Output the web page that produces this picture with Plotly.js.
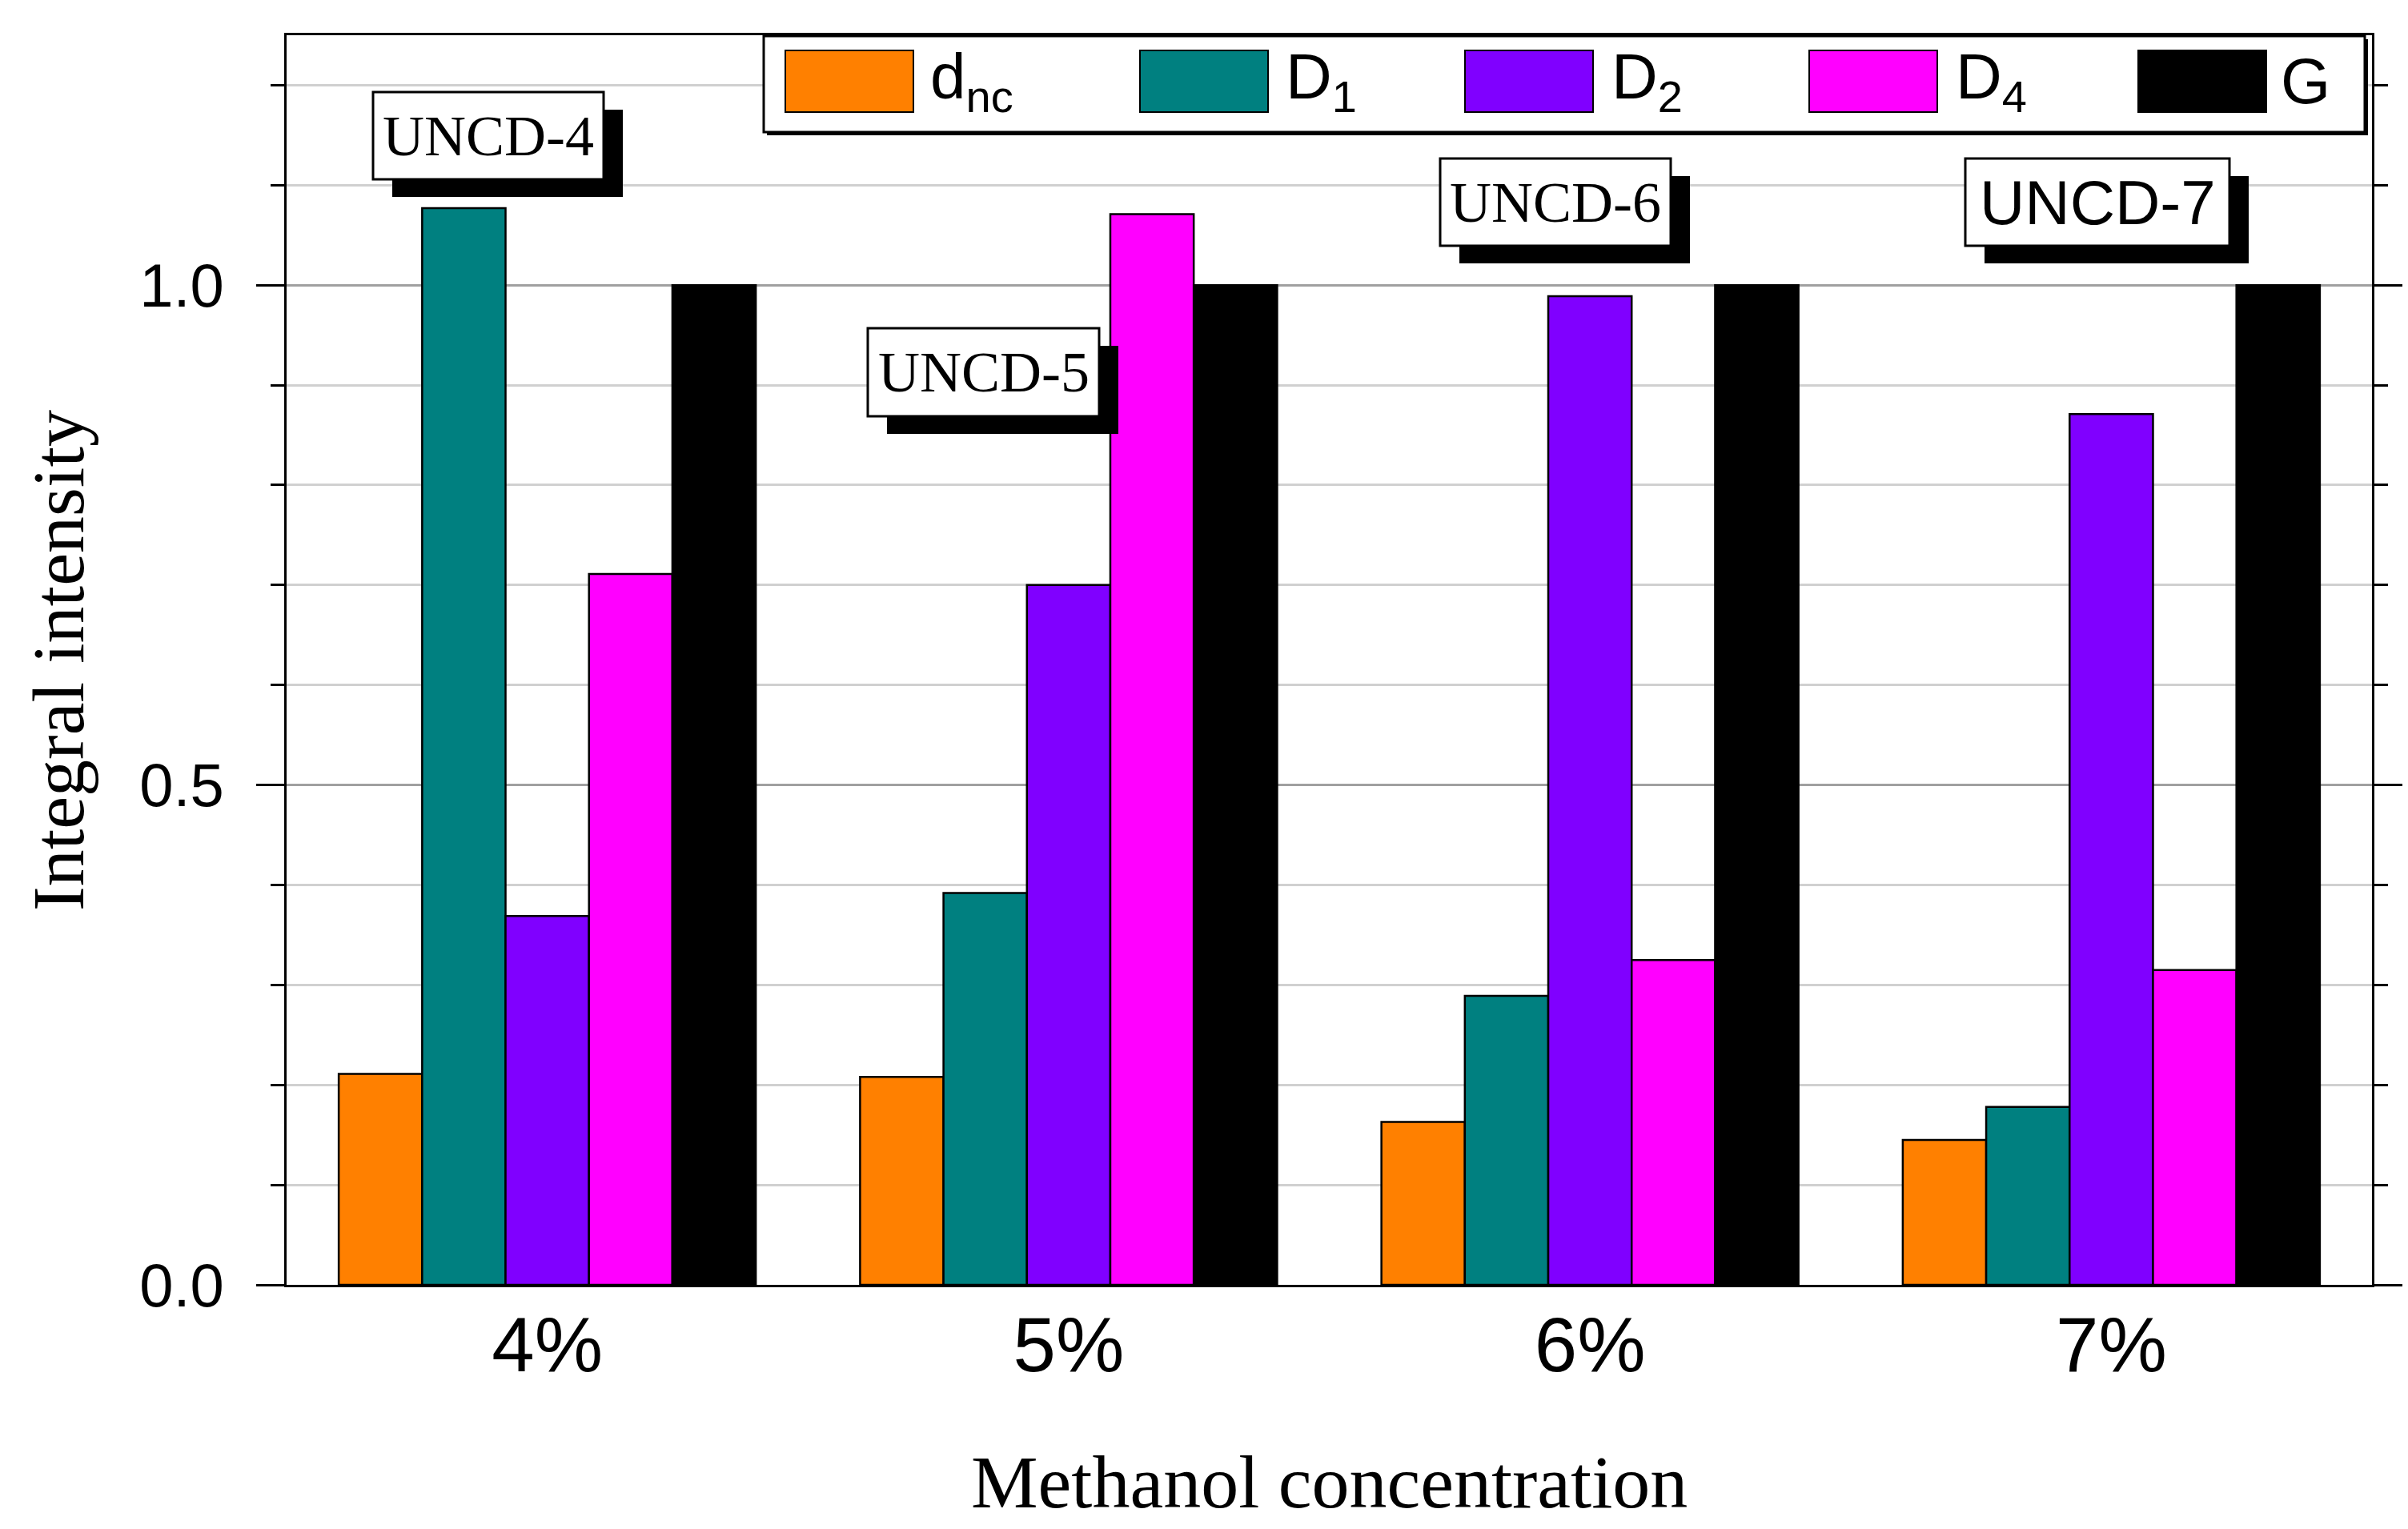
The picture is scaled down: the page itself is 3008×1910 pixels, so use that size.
<!DOCTYPE html>
<html>
<head>
<meta charset="utf-8">
<script src="https://cdn.plot.ly/plotly-3.0.1.min.js"></script>
<style>
  html, body { margin: 0; padding: 0; background: #fff; }
  #chart { width: 3008px; height: 1910px; }
</style>
</head>
<body>
<div id="chart"></div>
<script>
// data
const categories = ['4%', '5%', '6%', '7%'];
const seriesNames = ['d<sub>nc</sub>', 'D<sub>1</sub>', 'D<sub>2</sub>', 'D<sub>4</sub>', 'G'];
const dnc = [0.211, 0.208, 0.163, 0.145];
const D1 = [1.077, 0.392, 0.289, 0.178];
const D2 = [0.369, 0.700, 0.989, 0.871];
const D4 = [0.711, 1.071, 0.325, 0.315];
const G = [1.0, 1.0, 1.0, 1.0];
const sampleLabels = ['UNCD-4', 'UNCD-5', 'UNCD-6', 'UNCD-7'];
const yTickVals = [0, 0.5, 1.0];
const yTickText = ['0.0', '0.5', '1.0'];

const colors = ['#FF8000', '#008080', '#8000FF', '#FF00FF', '#000000'];
const seriesValues = [dnc, D1, D2, D4, G];

// plot box in page pixels
const L = 358, R = 2963, T = 44, B = 1605;
const W = R - L, H = B - T;
const px = x => (x - L) / W;
const py = y => (B - y) / H;

const sansFont = 'Liberation Sans, Arial, sans-serif';
const serifFont = 'Liberation Serif, Times New Roman, serif';

var traces = seriesValues.map((vals, i) => ({
    type: 'bar',
    x: categories,
    y: vals,
    name: seriesNames[i],
    marker: { color: colors[i], line: { color: '#000', width: 2.5 } },
    showlegend: false
}));

var shapes = [];
var annotations = [];

// sample label boxes with drop shadow [x0, x1, y0, y1] in px
const labelBoxes = [
    [466, 754, 115, 224],
    [1084, 1373, 410, 520],
    [1799, 2087, 198, 307],
    [2455, 2785, 198, 307]
];
const labelFonts = [serifFont, serifFont, serifFont, sansFont];
const labelSizes = [72, 72, 72, 78];
const shX = 24, shY = 22;
labelBoxes.forEach((b, i) => {
    shapes.push({
        type: 'rect', xref: 'paper', yref: 'paper', layer: 'above',
        x0: px(b[0] + shX), x1: px(b[1] + shX), y0: py(b[3] + shY), y1: py(b[2] + shY),
        fillcolor: '#000', line: { width: 0 }
    });
    shapes.push({
        type: 'rect', xref: 'paper', yref: 'paper', layer: 'above',
        x0: px(b[0]), x1: px(b[1]), y0: py(b[3]), y1: py(b[2]),
        fillcolor: '#fff', line: { color: '#000', width: 3 }
    });
    annotations.push({
        xref: 'paper', yref: 'paper',
        x: px((b[0] + b[1]) / 2), y: py((b[2] + b[3]) / 2),
        xanchor: 'center', yanchor: 'middle', showarrow: false,
        text: sampleLabels[i],
        font: { family: labelFonts[i], size: labelSizes[i], color: '#000' }
    });
});

// legend drawn by hand (wide swatches like the original)
shapes.push({
    type: 'rect', xref: 'paper', yref: 'paper', layer: 'above',
    x0: px(958), x1: px(2958), y0: py(169), y1: py(49),
    fillcolor: '#000', line: { width: 0 }
});
shapes.push({
    type: 'rect', xref: 'paper', yref: 'paper', layer: 'above',
    x0: px(954), x1: px(2954), y0: py(165), y1: py(45),
    fillcolor: '#fff', line: { color: '#000', width: 3 }
});
const swatchX = [981, 1424, 1830, 2260, 2671];
const swatchW = 160;
const swatchTop = 63, swatchBot = 140;
const legendTextX = [1160, 1604, 2011, 2441, 2847];
seriesNames.forEach((nm, i) => {
    shapes.push({
        type: 'rect', xref: 'paper', yref: 'paper', layer: 'above',
        x0: px(swatchX[i]), x1: px(swatchX[i] + swatchW), y0: py(swatchBot), y1: py(swatchTop),
        fillcolor: colors[i], line: { color: '#000', width: 2 }
    });
    annotations.push({
        xref: 'paper', yref: 'paper',
        x: px(legendTextX[i]), y: py(101),
        xanchor: 'left', yanchor: 'middle', showarrow: false,
        text: nm,
        font: { family: sansFont, size: 80, color: '#000' }
    });
});

// axis titles
annotations.push({
    xref: 'paper', yref: 'paper', x: px(1660), y: py(1851),
    xanchor: 'center', yanchor: 'middle', showarrow: false,
    text: 'Methanol concentration',
    font: { family: serifFont, size: 94, color: '#000' }
});
annotations.push({
    xref: 'paper', yref: 'paper', x: px(73), y: py(825),
    xanchor: 'center', yanchor: 'middle', showarrow: false, textangle: -90,
    text: 'Integral intensity',
    font: { family: serifFont, size: 92, color: '#000' }
});

var layout = {
    width: 3008,
    height: 1910,
    paper_bgcolor: '#fff',
    plot_bgcolor: '#fff',
    margin: { l: L, r: 3008 - R, t: T, b: 1910 - B, pad: 0 },
    barmode: 'group',
    bargap: 0.2,
    bargroupgap: 0,
    showlegend: false,
    xaxis: {
        type: 'category',
        range: [-0.5, 3.5],
        showline: true, linecolor: '#000', linewidth: 3, mirror: true,
        ticks: '', showgrid: false, zeroline: false,
        ticklabelstandoff: -10,
        tickfont: { family: sansFont, size: 96, color: '#000' }
    },
    yaxis: {
        range: [0, 1.25],
        tickvals: yTickVals, ticktext: yTickText,
        ticks: 'outside', ticklen: 35, tickwidth: 3, tickcolor: '#000',
        showline: true, linecolor: '#000', linewidth: 3, mirror: 'ticks',
        zeroline: false,
        showgrid: true, gridcolor: '#a0a0a0', gridwidth: 3,
        ticklabelstandoff: 25,
        tickfont: { family: sansFont, size: 76, color: '#000' },
        minor: {
            dtick: 0.1, tick0: 0,
            ticks: 'outside', ticklen: 17, tickwidth: 3, tickcolor: '#000',
            showgrid: true, gridcolor: '#d0d0d0', gridwidth: 3
        }
    },
    shapes: shapes,
    annotations: annotations
};

Plotly.newPlot('chart', traces, layout, { staticPlot: true });
</script>
</body>
</html>
